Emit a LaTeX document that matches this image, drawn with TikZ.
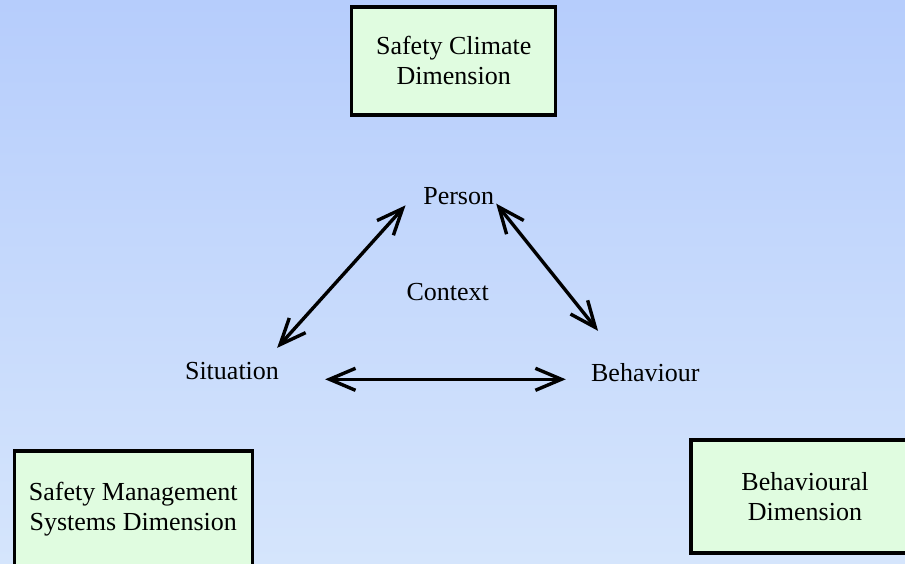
\documentclass[tikz,border=0pt]{standalone}
\usepackage{fontspec}
\setmainfont{Liberation Serif}
\usetikzlibrary{arrows.meta}
\definecolor{bgtop}{RGB}{182,205,252}
\definecolor{bgbot}{RGB}{213,229,252}
\definecolor{boxfill}{RGB}{224,252,224}

\begin{document}
\begin{tikzpicture}[x=1pt, y=-1pt,
		lbl/.style={inner sep=0pt, font=\fontsize{26}{30}\selectfont},
		dimbox/.style={lbl, draw=black, line width=3.5pt, fill=boxfill, align=center},
		dblarr/.style={line width=3.4pt, {Straight Barb[length=26pt,width=22pt]}-{Straight Barb[length=26pt,width=22pt]}}]
			%%%%% START %%%%%
			
			\clip (0, 0) rectangle (905, 563);
			\shade[top color=bgtop, bottom color=bgbot] (0, 0) rectangle (905, 563);
			
			% the three dimensions
			\node[dimbox, minimum width=204pt, minimum height=108pt] (climate) at (453.7, 60.8) {Safety Climate\\Dimension};
			\node[dimbox, minimum width=238pt, minimum height=117pt] (sms) at (133.3, 509.5) {Safety Management\\Systems Dimension};
			\node[dimbox, minimum width=228pt, minimum height=113pt] (behdim) at (805, 496.7) {Behavioural\\Dimension};
			
			% the triangle
			\node[lbl] (person) at (458.7, 196.5) {Person};
			\node[lbl] (context) at (447.7, 292) {Context};
			\node[lbl] (situation) at (232, 371.5) {Situation};
			\node[lbl] (behaviour) at (645.3, 372.5) {Behaviour};
			
			\draw[dblarr] ([shift={(-2, -14.7)}]situation.north east) -- ([shift={(-17.6, 0)}]person.south west);
			\draw[dblarr] ([shift={(1.9, -1.7)}]person.south east) -- ([shift={(7.1, -32.3)}]behaviour.north west);
			\draw[dblarr] ([shift={(46, 7.8)}]situation.east) -- ([shift={(-25.2, 6.8)}]behaviour.west);
			
			%%%%% END %%%%%
		\end{tikzpicture}
\end{document}
